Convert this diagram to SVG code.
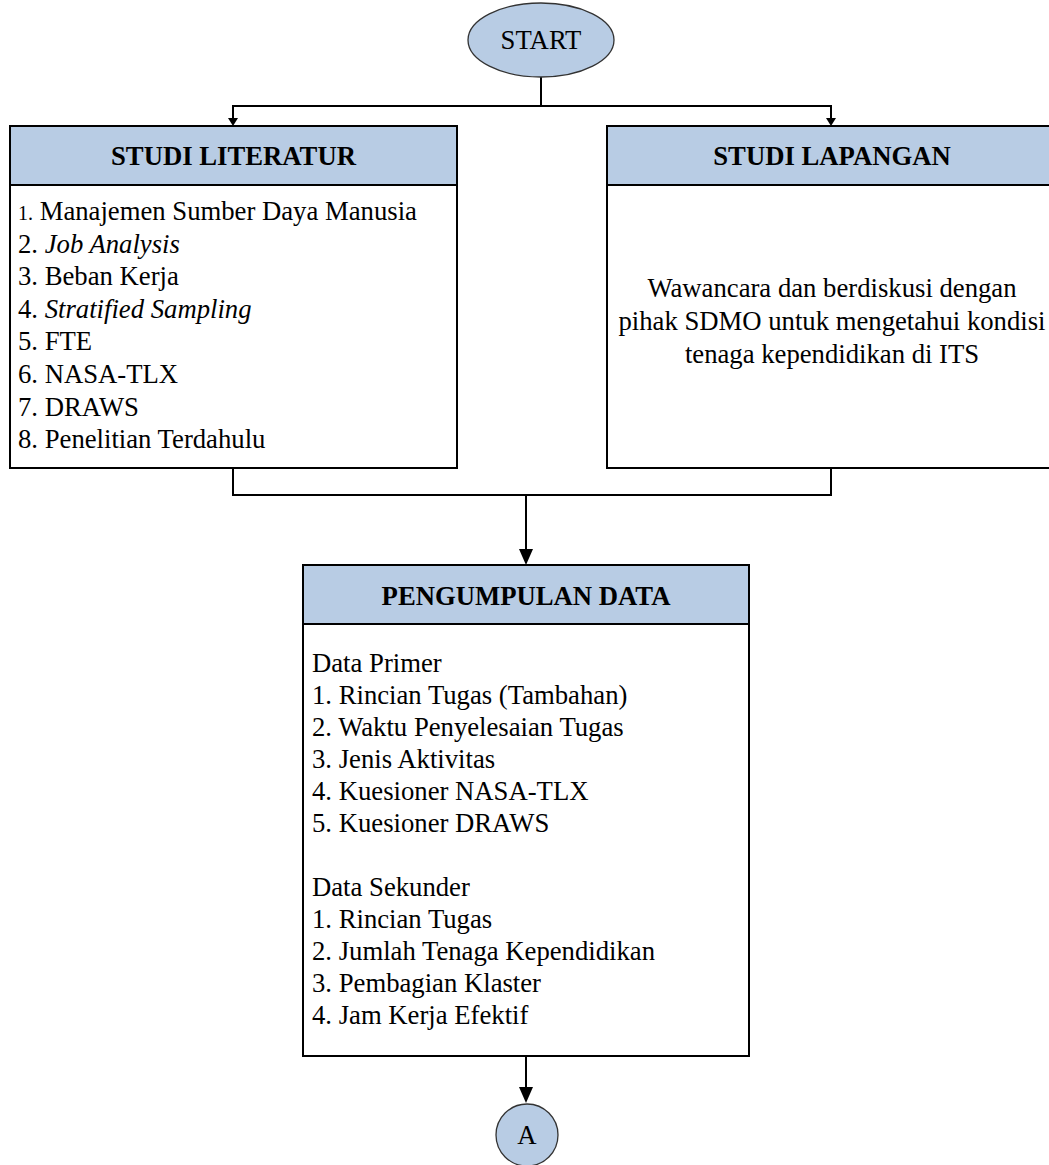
<svg xmlns="http://www.w3.org/2000/svg" width="1049" height="1165" viewBox="0 0 1049 1165">
<style>
.box{fill:#fff;stroke:#000;stroke-width:2}
.hdr{fill:#B8CCE4;stroke:#000;stroke-width:2}
.term{fill:#B8CCE4;stroke:#333;stroke-width:1.3}
.t{font-family:"Liberation Serif","Times New Roman",serif;font-size:26.7px;fill:#000}
.h{font-family:"Liberation Serif","Times New Roman",serif;font-size:26.7px;font-weight:bold;fill:#000}
.c{text-anchor:middle}
.ln{fill:none;stroke:#000;stroke-width:2}
.ah{fill:#000}
</style>
<rect width="1049" height="1165" fill="#fff"/>
<g id="connectors">
<polyline class="ln" points="541,77 541,106"/>
<polyline class="ln" points="233,118 233,106 831,106 831,118"/>
<polygon class="ah" points="228,118 238,118 233,126"/>
<polygon class="ah" points="826,118 836,118 831,126"/>
<polyline class="ln" points="233,468 233,495 831,495 831,468"/>
<polyline class="ln" points="526,495 526,550"/>
<polygon class="ah" points="519,549 533,549 526,565"/>
<polyline class="ln" points="526,1056 526,1088"/>
<polygon class="ah" points="519,1087 533,1087 526,1103"/>
</g>
<g id="start">
<ellipse class="term" cx="541" cy="40" rx="73" ry="37"/>
<text class="t c" x="541" y="49">START</text>
</g>
<g id="studi-literatur">
<rect class="box" x="10" y="126" width="447" height="342"/>
<rect class="hdr" x="10" y="126" width="447" height="59"/>
<text class="h c" x="233.5" y="165">STUDI LITERATUR</text>
<text class="t" x="18" y="220"><tspan font-size="20px">1.</tspan> Manajemen Sumber Daya Manusia</text>
<text class="t" x="18" y="252.6">2. <tspan font-style="italic">Job Analysis</tspan></text>
<text class="t" x="18" y="285.2">3. Beban Kerja</text>
<text class="t" x="18" y="317.8">4. <tspan font-style="italic">Stratified Sampling</tspan></text>
<text class="t" x="18" y="350.4">5. FTE</text>
<text class="t" x="18" y="383">6. NASA-TLX</text>
<text class="t" x="18" y="415.6">7. DRAWS</text>
<text class="t" x="18" y="448.2">8. Penelitian Terdahulu</text>
</g>
<g id="studi-lapangan">
<rect class="box" x="607" y="126" width="452" height="342"/>
<rect class="hdr" x="607" y="126" width="452" height="59"/>
<text class="h c" x="832" y="165">STUDI LAPANGAN</text>
<text class="t c" x="832" y="297">Wawancara dan berdiskusi dengan</text>
<text class="t c" x="832" y="330">pihak SDMO untuk mengetahui kondisi</text>
<text class="t c" x="832" y="363">tenaga kependidikan di ITS</text>
</g>
<g id="pengumpulan-data">
<rect class="box" x="303" y="565" width="446" height="491"/>
<rect class="hdr" x="303" y="565" width="446" height="59"/>
<text class="h c" x="526" y="605">PENGUMPULAN DATA</text>
<text class="t" x="312" y="672">Data Primer</text>
<text class="t" x="312" y="704">1. Rincian Tugas (Tambahan)</text>
<text class="t" x="312" y="736">2. Waktu Penyelesaian Tugas</text>
<text class="t" x="312" y="768">3. Jenis Aktivitas</text>
<text class="t" x="312" y="800">4. Kuesioner NASA-TLX</text>
<text class="t" x="312" y="832">5. Kuesioner DRAWS</text>
<text class="t" x="312" y="896">Data Sekunder</text>
<text class="t" x="312" y="928">1. Rincian Tugas</text>
<text class="t" x="312" y="960">2. Jumlah Tenaga Kependidikan</text>
<text class="t" x="312" y="992">3. Pembagian Klaster</text>
<text class="t" x="312" y="1024">4. Jam Kerja Efektif</text>
</g>
<g id="connector-a">
<circle class="term" cx="527" cy="1135" r="31"/>
<text class="t c" x="527" y="1144">A</text>
</g>
</svg>
